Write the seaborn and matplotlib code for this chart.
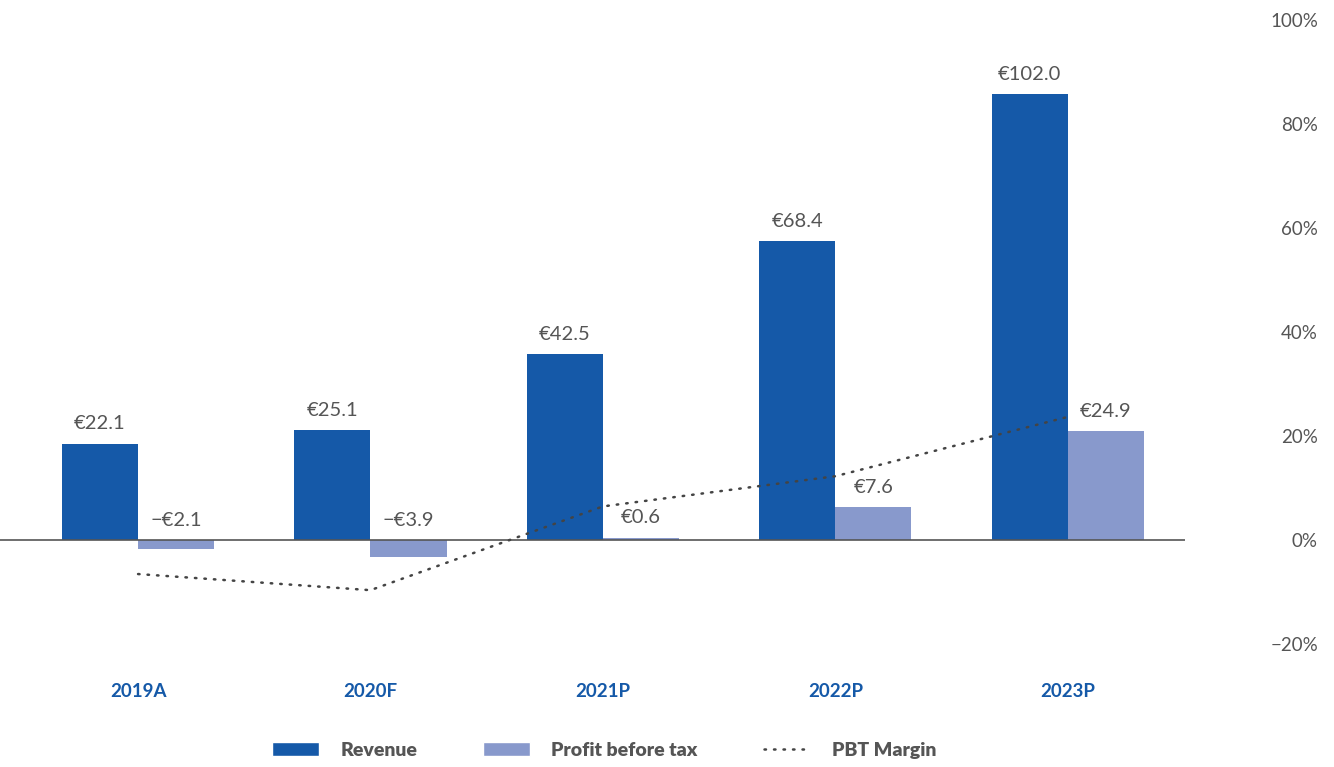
import pandas as pd
import matplotlib.pyplot as plt
import seaborn as sns
from matplotlib.lines import Line2D
from matplotlib.patches import Patch

years = ["2019A", "2020F", "2021P", "2022P", "2023P"]
revenue = [22.1, 25.1, 42.5, 68.4, 102.0]
profit = [-2.1, -3.9, 0.6, 7.6, 24.9]
pbt_margin = [-6.5, -9.6, 6.5, 12.3, 23.7]
pct_ticks = [-20, 0, 20, 40, 60, 80, 100]

REV_COLOR = "#1559A8"
PBT_COLOR = "#8899CC"
TEXT_COLOR = "#555555"
YEAR_COLOR = "#1559A8"


def fmt_eur(v):
    return ("\u2212" if v < 0 else "") + "\u20ac" + f"{abs(v):.1f}"


def main():
    sns.set_style("white")
    plt.rcParams["font.family"] = ["Lato", "DejaVu Sans"]

    df = pd.DataFrame({
        "year": years * 2,
        "value": revenue + profit,
        "series": ["Revenue"] * len(years) + ["Profit before tax"] * len(years),
    })

    fig = plt.figure(figsize=(13.34, 7.67), dpi=100)
    ax = fig.add_axes([0.0, 0.160, 0.888, 0.814])

    sns.barplot(
        data=df, x="year", y="value", hue="series",
        palette={"Revenue": REV_COLOR, "Profit before tax": PBT_COLOR},
        width=0.655, gap=0, saturation=1, legend=False, linewidth=0, ax=ax,
    )

    # value labels above bars (negative ones sit above the zero line)
    for container, vals in zip(ax.containers, [revenue, profit]):
        for patch, v in zip(container, vals):
            x = patch.get_x() + patch.get_width() / 2
            ax.annotate(fmt_eur(v), (x, max(v, 0)), xytext=(0, 8),
                        textcoords="offset points", ha="center", va="bottom",
                        fontsize=14.5, color=TEXT_COLOR)

    ax.axhline(0, color="#555555", lw=1.2, zorder=3)
    ax.set_ylim(-23.8, 119)
    ax.set_xlim(-0.594, 4.503)
    ax.set_yticks([])
    ax.set_xlabel("")
    ax.set_ylabel("")
    ax.tick_params(axis="x", length=0, pad=28)
    for lab in ax.get_xticklabels():
        lab.set_fontweight("bold")
        lab.set_color(YEAR_COLOR)
        lab.set_fontsize(13.5)

    ax2 = ax.twinx()
    ax2.plot(range(len(years)), pbt_margin, color="#444444", lw=1.8,
             linestyle=(0, (0.6, 3.2)), dash_capstyle="round")
    ax2.set_ylim(-20, 100)
    ax2.set_yticks(pct_ticks)
    ax2.set_yticklabels([f"{t}%" if t >= 0 else f"\u2212{abs(t)}%" for t in pct_ticks])
    ax2.tick_params(axis="y", length=0, pad=96, labelsize=13.5, labelcolor=TEXT_COLOR)
    for lab in ax2.get_yticklabels():
        lab.set_horizontalalignment("right")

    for a in (ax, ax2):
        for s in a.spines.values():
            s.set_visible(False)

    handles = [
        Patch(facecolor=REV_COLOR, label="Revenue"),
        Patch(facecolor=PBT_COLOR, label="Profit before tax"),
        Line2D([0], [0], color="#444444", lw=1.8, linestyle=(0, (0.6, 3.2)),
               dash_capstyle="round", label="PBT Margin"),
    ]
    leg = fig.legend(handles=handles, loc="center", bbox_to_anchor=(0.453, 0.022),
                     ncol=3, frameon=False, handlelength=2.4, handleheight=0.75,
                     columnspacing=3.4, handletextpad=1.1,
                     prop={"weight": "heavy", "size": 14})
    for t in leg.get_texts():
        t.set_color(TEXT_COLOR)

    fig.savefig("out.png", dpi=100)


if __name__ == "__main__":
    main()
